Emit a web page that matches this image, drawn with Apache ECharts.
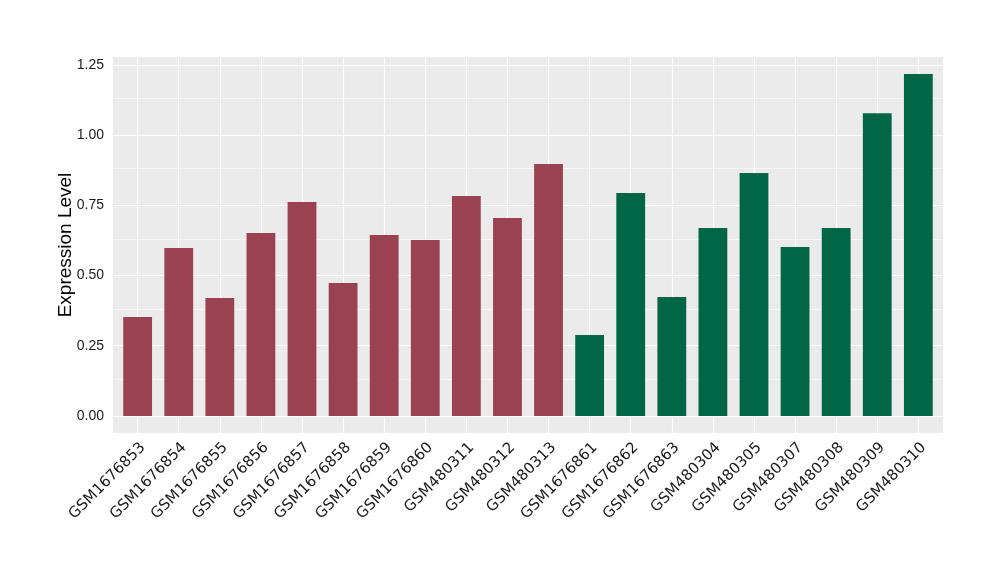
<!DOCTYPE html>
<html>
<head>
<meta charset="utf-8">
<script src="https://cdn.jsdelivr.net/npm/echarts@6/dist/echarts.min.js"></script>
<style>html,body{margin:0;padding:0;background:#fff}#c{width:1000px;height:580px}</style>
</head>
<body>
<div id="c"></div>
<script>
const categories = ["GSM1676853","GSM1676854","GSM1676855","GSM1676856","GSM1676857","GSM1676858","GSM1676859","GSM1676860","GSM480311","GSM480312","GSM480313","GSM1676861","GSM1676862","GSM1676863","GSM480304","GSM480305","GSM480307","GSM480308","GSM480309","GSM480310"];
const values = [0.352,0.598,0.420,0.651,0.762,0.473,0.644,0.626,0.783,0.705,0.897,0.288,0.794,0.423,0.669,0.865,0.601,0.669,1.078,1.217];
const groups = ["A","A","A","A","A","A","A","A","A","A","A","B","B","B","B","B","B","B","B","B"];
const yTicks = [0, 0.25, 0.5, 0.75, 1.0, 1.25];
const yMinor = [0.125, 0.375, 0.625, 0.875, 1.125];
const groupColors = {A: "#9b4250", B: "#006646"};

const maxV = Math.max(...values);
const yPad = maxV * 0.05;
const idx = categories.map((_, i) => i);

const chart = echarts.init(document.getElementById('c'), null, {renderer: 'canvas'});
const gridLines = [];
yMinor.forEach(v => gridLines.push({yAxis: v, lineStyle: {color: '#ffffff', width: 0.6, type: 'solid'}}));
yTicks.forEach(v => gridLines.push({yAxis: v, lineStyle: {color: '#ffffff', width: 1.2, type: 'solid'}}));
idx.forEach(i => gridLines.push({xAxis: i, lineStyle: {color: '#ffffff', width: 1.2, type: 'solid'}}));

chart.setOption({
  animation: false,
  grid: {left: 113, right: 57, top: 57, bottom: 147, show: true, backgroundColor: '#ebebeb', borderWidth: 0},
  xAxis: {
    type: 'value', min: -0.6, max: categories.length - 1 + 0.6,
    splitLine: {show: false},
    axisLine: {show: false},
    axisTick: {show: true, customValues: idx, length: 4, lineStyle: {color: '#333333', width: 1}},
    axisLabel: {
      customValues: idx, rotate: 45, margin: 7, align: 'right', verticalAlign: 'top',
      formatter: v => categories[Math.round(v)],
      fontFamily: "'DejaVu Sans', sans-serif", fontSize: 15, color: '#1a1a1a'
    }
  },
  yAxis: {
    type: 'value', min: -yPad, max: maxV + yPad,
    name: 'Expression Level', nameLocation: 'middle', nameGap: 38, nameMoveOverlap: false,
    nameTextStyle: {fontFamily: "'Liberation Sans', sans-serif", fontSize: 19, color: '#000000'},
    splitLine: {show: false},
    axisLine: {show: false},
    axisTick: {show: true, customValues: yTicks, length: 4, lineStyle: {color: '#333333', width: 1}},
    axisLabel: {
      customValues: yTicks, margin: 9,
      formatter: v => v.toFixed(2),
      fontFamily: "'Liberation Sans', sans-serif", fontSize: 14, color: '#1a1a1a'
    }
  },
  series: [
    {
      type: 'line', data: [], z: 1, silent: true,
      markLine: {z: 1, silent: true, symbol: ['none','none'], label: {show: false}, animation: false, data: gridLines}
    },
    {
      type: 'bar', z: 3, barWidth: 28.8,
      data: values.map((v, i) => ({value: [i, v], itemStyle: {color: groupColors[groups[i]]}}))
    }
  ]
});
</script>
</body>
</html>
